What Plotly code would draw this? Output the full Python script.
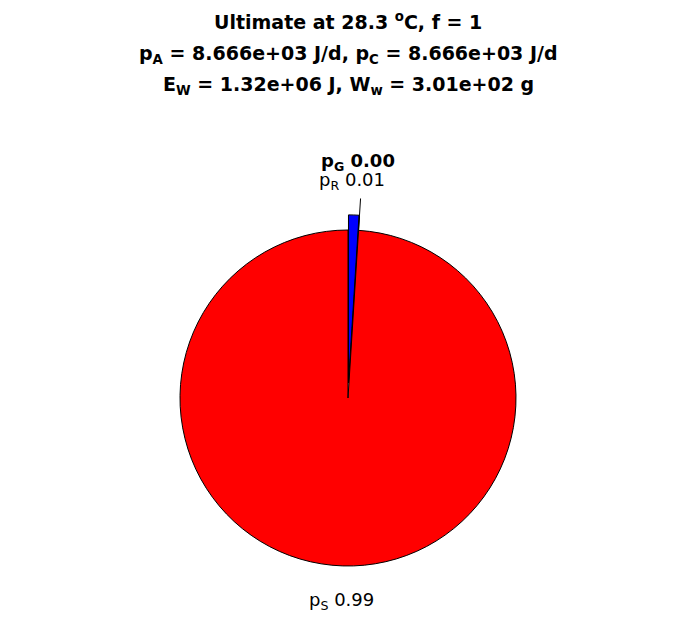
import math
import plotly.graph_objects as go

# ---- data ----
slice_names = ["R", "G", "S"]
slice_values = [0.01, 0.00, 0.99]
slice_colors = ["#0000ff", "#000000", "#ff0000"]
slice_pull = [0.09, 0.09, 0.0]

title_lines = [
    "<b>Ultimate at 28.3 <sup>o</sup>C, f = 1</b>",
    "<b>p<sub>A</sub> = 8.666e+03 J/d, p<sub>C</sub> = 8.666e+03 J/d</b>",
    "<b>E<sub>W</sub> = 1.32e+06 J, W<sub>w</sub> = 3.01e+02 g</b>",
]

W, H = 696, 618
OFF = 8  # page body margin
CX, CY, R = 348, 398, 168
maxpull = max(slice_pull)
half = R * (1 + maxpull)

def px(x):
    return (x - OFF) / W

def py(y):
    return 1 - (y - OFF) / H

fig = go.Figure()
fig.add_trace(go.Pie(
    values=slice_values,
    labels=slice_names,
    sort=False,
    direction="clockwise",
    rotation=0,
    pull=slice_pull,
    marker=dict(colors=slice_colors, line=dict(color="black", width=1)),
    textinfo="none",
    hoverinfo="label+value",
    showlegend=False,
    domain=dict(x=[px(CX - half), px(CX + half)],
                y=[py(CY + half), py(CY - half)]),
))

# zero-width exploded slice edge (p_G) drawn as a line at its angle
total = sum(slice_values)
cum = 0.0
angles = []
for v in slice_values:
    angles.append((cum, cum + v))
    cum += v
g0 = angles[1][0] / total * 2 * math.pi
off = slice_pull[1] * R
ox, oy = CX + off * math.sin(g0), CY - off * math.cos(g0)
r1, r2 = R * 1.0, R * 1.1
fig.add_shape(type="line", xref="paper", yref="paper",
              x0=px(ox + r1 * math.sin(g0)), y0=py(oy - r1 * math.cos(g0)),
              x1=px(ox + r2 * math.sin(g0)), y1=py(oy - r2 * math.cos(g0)),
              line=dict(color="black", width=1))

FONT = "DejaVu Sans, Arial"
# titles
for t, yy in zip(title_lines, [21, 54, 86]):
    fig.add_annotation(text=t, x=px(348), y=py(yy), xref="paper", yref="paper",
                       xanchor="center", yanchor="middle", showarrow=False,
                       font=dict(family=FONT, size=19, color="black"))

# slice labels
label_pos = {"R": (352, 181), "G": (358, 162), "S": (341, 601)}
for name, v in zip(slice_names, slice_values):
    txt = f"p<sub>{name}</sub> {v:.2f}"
    if name == "G":
        txt = f"<b>{txt}</b>"
    x, y = label_pos[name]
    fig.add_annotation(text=txt, x=px(x), y=py(y), xref="paper", yref="paper",
                       xanchor="center", yanchor="middle", showarrow=False,
                       font=dict(family=FONT, size=18, color="black"))

fig.update_layout(
    width=W, height=H,
    margin=dict(l=0, r=0, t=0, b=0),
    paper_bgcolor="white", plot_bgcolor="white",
)
fig.write_html("out.html")
